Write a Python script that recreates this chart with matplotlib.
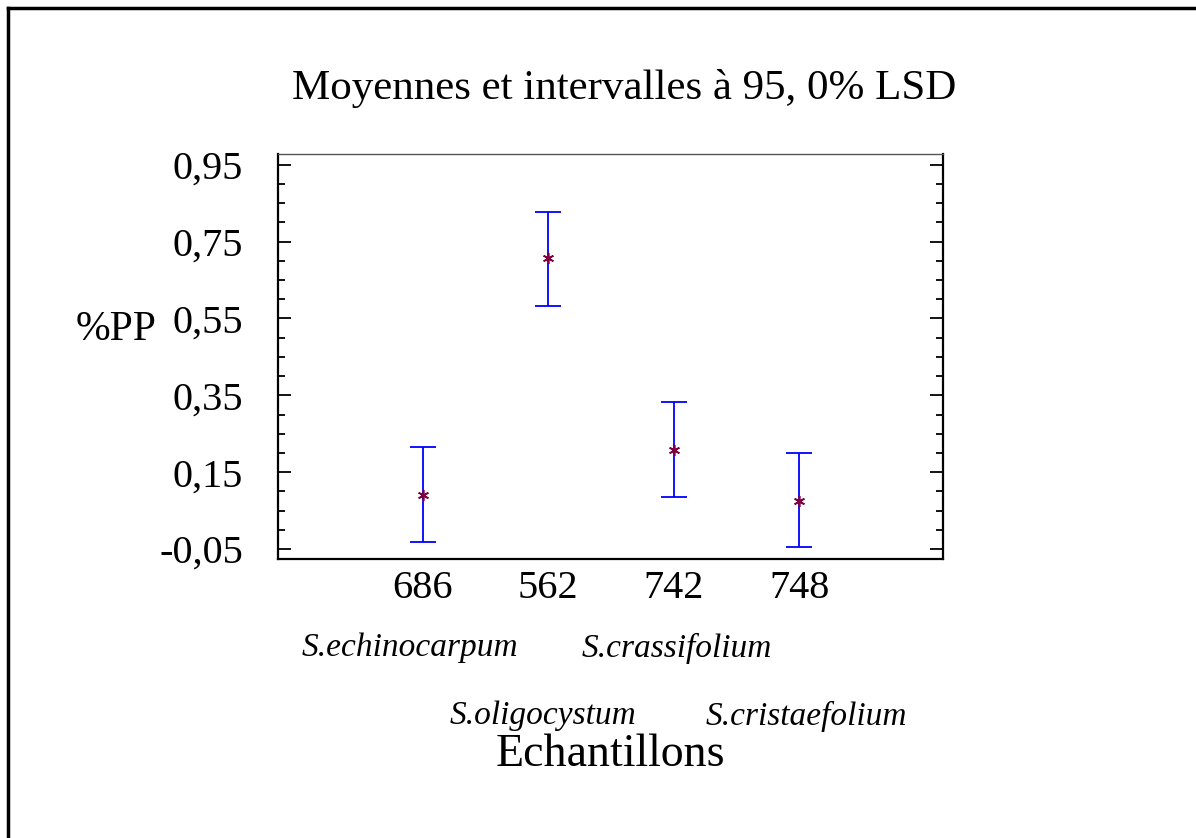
import matplotlib
matplotlib.use("Agg")
import matplotlib.pyplot as plt
from matplotlib.ticker import FixedLocator, MultipleLocator
from matplotlib.lines import Line2D

plt.rcParams['font.family'] = ['Liberation Serif', 'DejaVu Serif']

# Data
samples = ['686', '562', '742', '748']
species_row1 = ['S.echinocarpum', 'S.crassifolium']
species_row2 = ['S.oligocystum', 'S.cristaefolium']
means = [0.091, 0.707, 0.208, 0.076]
lower = [-0.033, 0.583, 0.085, -0.045]
upper = [0.216, 0.828, 0.333, 0.199]
yticks = [-0.05, 0.15, 0.35, 0.55, 0.75, 0.95]
ytick_labels = ['-0,05', '0,15', '0,35', '0,55', '0,75', '0,95']

W, H = 1196, 838
fig = plt.figure(figsize=(W / 100, H / 100), dpi=100)
ax = fig.add_axes([278 / W, 1 - 559 / H, (943 - 278) / W, (559 - 154) / H])

x = list(range(len(samples)))
yerr = [[m - lo for m, lo in zip(means, lower)], [u - m for m, u in zip(means, upper)]]
ax.errorbar(x, means, yerr=yerr, fmt='none', ecolor='#0000ff', elinewidth=1.3,
            capsize=9.5, capthick=1.3)
ax.plot(x, means, linestyle='none', marker=(6, 2, 0), markersize=8,
        markeredgecolor='#800040', markeredgewidth=1.2, color='#800040')

ax.set_xlim(-1.153, 4.145)
ax.set_ylim(-0.076, 0.978)

ax.yaxis.set_major_locator(FixedLocator(yticks))
ax.set_yticklabels(ytick_labels)
ax.yaxis.set_minor_locator(MultipleLocator(0.05))
ax.tick_params(axis='y', which='major', direction='in', length=9.5, width=1.3,
               labelsize=29, pad=25, right=True, left=True)
ax.tick_params(axis='y', which='minor', direction='in', length=5, width=1.3,
               right=True, left=True)
ax.set_xticks(x)
ax.set_xticklabels(samples)
ax.tick_params(axis='x', which='both', length=0, labelsize=29, pad=8)

for s in ['left', 'bottom', 'right']:
    ax.spines[s].set_linewidth(1.6)
    ax.spines[s].set_color('black')
ax.spines['top'].set_linewidth(1.0)
ax.spines['top'].set_color('#555555')

def px(xp, yp):
    return xp / W, 1 - yp / H

fig.text(*px(624, 88), 'Moyennes et intervalles à 95, 0% LSD', fontsize=31,
         ha='center', va='center')
fig.text(*px(116, 330), '%PP', fontsize=30, ha='center', va='center')
fig.text(*px(610, 755), 'Echantillons', fontsize=33, ha='center', va='center')

row1_x = [410, 677]
row2_x = [543, 806]
for name, xp in zip(species_row1, row1_x):
    fig.text(*px(xp, 648), name, fontsize=24, style='italic', ha='center', va='center')
for name, xp in zip(species_row2, row2_x):
    fig.text(*px(xp, 716), name, fontsize=24, style='italic', ha='center', va='center')

# Outer frame (left and top edges)
fig.add_artist(Line2D([8 / W, 8 / W], [0, 1 - 8 / H], color='black', linewidth=2.5,
                      transform=fig.transFigure))
fig.add_artist(Line2D([8 / W, 1], [1 - 8 / H, 1 - 8 / H], color='black', linewidth=2.5,
                      transform=fig.transFigure))

fig.savefig('out.png', dpi=100)
